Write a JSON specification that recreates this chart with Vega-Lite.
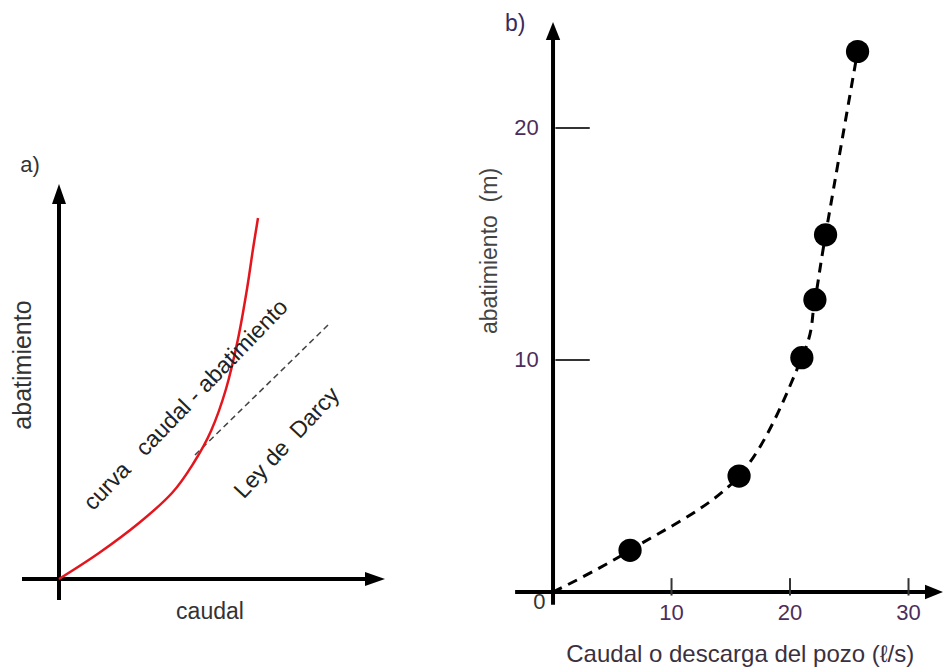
{
  "$schema": "https://vega.github.io/schema/vega-lite/v6.json",
  "width": 943,
  "height": 670,
  "autosize": "none",
  "padding": 0,
  "background": "white",
  "data": {"values": [{}]},
  "config": {"view": {"stroke": null}, "axis": {"disable": true}, "font": "Liberation Sans"},
  "datasets": {
    "a_curve": [
      {"caudal": 0, "abatimiento": 0},
      {"caudal": 4, "abatimiento": 2.6},
      {"caudal": 8, "abatimiento": 5.6},
      {"caudal": 11.3, "abatimiento": 8.6},
      {"caudal": 13.4, "abatimiento": 11.5},
      {"caudal": 15.2, "abatimiento": 14.8},
      {"caudal": 16.7, "abatimiento": 19.0},
      {"caudal": 17.9, "abatimiento": 24.0},
      {"caudal": 18.8, "abatimiento": 29.0},
      {"caudal": 19.4, "abatimiento": 33.0},
      {"caudal": 19.9, "abatimiento": 36.1}
    ],
    "a_darcy": [
      {"caudal": 13.6, "abatimiento": 12.4},
      {"caudal": 26.9, "abatimiento": 25.4}
    ],
    "b_curve": [
      {"caudal": 0, "abatimiento": 0},
      {"caudal": 6.5, "abatimiento": 1.8},
      {"caudal": 15.7, "abatimiento": 5.0},
      {"caudal": 21.0, "abatimiento": 10.1},
      {"caudal": 22.1, "abatimiento": 12.6},
      {"caudal": 23.0, "abatimiento": 15.4},
      {"caudal": 25.7, "abatimiento": 23.3}
    ],
    "b_points": [
      {"caudal": 6.5, "abatimiento": 1.8},
      {"caudal": 15.7, "abatimiento": 5.0},
      {"caudal": 21.0, "abatimiento": 10.1},
      {"caudal": 22.1, "abatimiento": 12.6},
      {"caudal": 23.0, "abatimiento": 15.4},
      {"caudal": 25.7, "abatimiento": 23.3}
    ],
    "b_yticks": [{"v": 10}, {"v": 20}],
    "b_xticks": [{"v": 10}, {"v": 20}, {"v": 30}]
  },
  "resolve": {"scale": {"x": "independent", "y": "independent"}},
  "layer": [
    {
      "layer": [
        {
          "mark": {"type": "rule", "strokeWidth": 4, "color": "#000"},
          "encoding": {
            "x": {"datum": -3.7, "type": "quantitative", "scale": {"domain": [-5.9, 88.4], "nice": false, "zero": false}, "axis": null},
            "x2": {"datum": 31.6},
            "y": {"datum": 0, "type": "quantitative", "scale": {"domain": [-9.1, 57.9], "nice": false, "zero": false}, "axis": null}
          }
        },
        {
          "mark": {"type": "rule", "strokeWidth": 4, "color": "#000"},
          "encoding": {
            "x": {"datum": 0, "type": "quantitative", "scale": {"domain": [-5.9, 88.4], "nice": false, "zero": false}, "axis": null},
            "y": {"datum": -2.1, "type": "quantitative", "scale": {"domain": [-9.1, 57.9], "nice": false, "zero": false}, "axis": null},
            "y2": {"datum": 38.5}
          }
        },
        {
          "mark": {"type": "point", "shape": "M-0.7,1L0,-1L0.7,1Z", "filled": true, "color": "#000", "opacity": 1, "size": 400},
          "encoding": {
            "x": {"datum": 0, "type": "quantitative", "scale": {"domain": [-5.9, 88.4], "nice": false, "zero": false}, "axis": null},
            "y": {"datum": 38.5, "type": "quantitative", "scale": {"domain": [-9.1, 57.9], "nice": false, "zero": false}, "axis": null}
          }
        },
        {
          "mark": {"type": "point", "shape": "M-1,-0.7L1,0L-1,0.7Z", "filled": true, "color": "#000", "opacity": 1, "size": 400},
          "encoding": {
            "x": {"datum": 31.6, "type": "quantitative", "scale": {"domain": [-5.9, 88.4], "nice": false, "zero": false}, "axis": null},
            "y": {"datum": 0, "type": "quantitative", "scale": {"domain": [-9.1, 57.9], "nice": false, "zero": false}, "axis": null}
          }
        },
        {
          "data": {"name": "a_darcy"},
          "mark": {"type": "line", "strokeDash": [6, 4], "strokeWidth": 1.5, "color": "#444"},
          "encoding": {
            "x": {"field": "caudal", "type": "quantitative", "scale": {"domain": [-5.9, 88.4], "nice": false, "zero": false}, "axis": null},
            "y": {"field": "abatimiento", "type": "quantitative", "scale": {"domain": [-9.1, 57.9], "nice": false, "zero": false}, "axis": null}
          }
        },
        {
          "data": {"name": "a_curve"},
          "mark": {"type": "line", "strokeWidth": 2.5, "color": "#e3161e", "interpolate": "cardinal"},
          "encoding": {
            "x": {"field": "caudal", "type": "quantitative", "scale": {"domain": [-5.9, 88.4], "nice": false, "zero": false}, "axis": null},
            "y": {"field": "abatimiento", "type": "quantitative", "scale": {"domain": [-9.1, 57.9], "nice": false, "zero": false}, "axis": null}
          }
        },
        {
          "mark": {"type": "text", "text": "a)", "fontSize": 22, "color": "#333", "align": "center", "baseline": "middle"},
          "encoding": {
            "x": {"datum": -2.9, "type": "quantitative", "scale": {"domain": [-5.9, 88.4], "nice": false, "zero": false}, "axis": null},
            "y": {"datum": 41.4, "type": "quantitative", "scale": {"domain": [-9.1, 57.9], "nice": false, "zero": false}, "axis": null}
          }
        },
        {
          "mark": {"type": "text", "text": "abatimiento", "fontSize": 25, "color": "#333", "align": "center", "baseline": "middle", "angle": 270},
          "encoding": {
            "x": {"datum": -3.6, "type": "quantitative", "scale": {"domain": [-5.9, 88.4], "nice": false, "zero": false}, "axis": null},
            "y": {"datum": 21.4, "type": "quantitative", "scale": {"domain": [-9.1, 57.9], "nice": false, "zero": false}, "axis": null}
          }
        },
        {
          "mark": {"type": "text", "text": "caudal", "fontSize": 23, "color": "#333", "align": "center", "baseline": "middle"},
          "encoding": {
            "x": {"datum": 15.1, "type": "quantitative", "scale": {"domain": [-5.9, 88.4], "nice": false, "zero": false}, "axis": null},
            "y": {"datum": -3.3, "type": "quantitative", "scale": {"domain": [-9.1, 57.9], "nice": false, "zero": false}, "axis": null}
          }
        },
        {
          "mark": {"type": "text", "text": "curva\u00a0\u00a0 caudal - abatimiento", "fontSize": 23, "color": "#222", "align": "center", "baseline": "middle", "angle": 314},
          "encoding": {
            "x": {"datum": 12.7, "type": "quantitative", "scale": {"domain": [-5.9, 88.4], "nice": false, "zero": false}, "axis": null},
            "y": {"datum": 17.4, "type": "quantitative", "scale": {"domain": [-9.1, 57.9], "nice": false, "zero": false}, "axis": null}
          }
        },
        {
          "mark": {"type": "text", "text": "Ley de\u00a0 Darcy", "fontSize": 23, "color": "#222", "align": "center", "baseline": "middle", "angle": 313},
          "encoding": {
            "x": {"datum": 22.8, "type": "quantitative", "scale": {"domain": [-5.9, 88.4], "nice": false, "zero": false}, "axis": null},
            "y": {"datum": 13.6, "type": "quantitative", "scale": {"domain": [-9.1, 57.9], "nice": false, "zero": false}, "axis": null}
          }
        }
      ]
    },
    {
      "layer": [
        {
          "mark": {"type": "rule", "strokeWidth": 4, "color": "#000"},
          "encoding": {
            "x": {"datum": -3.2, "type": "quantitative", "scale": {"domain": [-46.67, 32.91], "nice": false, "zero": false}, "axis": null},
            "x2": {"datum": 32.15},
            "y": {"datum": 0, "type": "quantitative", "scale": {"domain": [-3.36, 25.52], "nice": false, "zero": false}, "axis": null}
          }
        },
        {
          "mark": {"type": "rule", "strokeWidth": 4, "color": "#000"},
          "encoding": {
            "x": {"datum": 0, "type": "quantitative", "scale": {"domain": [-46.67, 32.91], "nice": false, "zero": false}, "axis": null},
            "y": {"datum": -0.55, "type": "quantitative", "scale": {"domain": [-3.36, 25.52], "nice": false, "zero": false}, "axis": null},
            "y2": {"datum": 24.18}
          }
        },
        {
          "mark": {"type": "point", "shape": "M-0.8,1L0,-1L0.8,1Z", "filled": true, "color": "#000", "opacity": 1, "size": 324},
          "encoding": {
            "x": {"datum": 0, "type": "quantitative", "scale": {"domain": [-46.67, 32.91], "nice": false, "zero": false}, "axis": null},
            "y": {"datum": 24.18, "type": "quantitative", "scale": {"domain": [-3.36, 25.52], "nice": false, "zero": false}, "axis": null}
          }
        },
        {
          "mark": {"type": "point", "shape": "M-1,-0.8L1,0L-1,0.8Z", "filled": true, "color": "#000", "opacity": 1, "size": 324},
          "encoding": {
            "x": {"datum": 32.15, "type": "quantitative", "scale": {"domain": [-46.67, 32.91], "nice": false, "zero": false}, "axis": null},
            "y": {"datum": 0, "type": "quantitative", "scale": {"domain": [-3.36, 25.52], "nice": false, "zero": false}, "axis": null}
          }
        },
        {
          "data": {"name": "b_yticks"},
          "mark": {"type": "rule", "strokeWidth": 2, "color": "#333"},
          "encoding": {
            "x": {"datum": 0.2, "type": "quantitative", "scale": {"domain": [-46.67, 32.91], "nice": false, "zero": false}, "axis": null},
            "x2": {"datum": 3.1},
            "y": {"field": "v", "type": "quantitative", "scale": {"domain": [-3.36, 25.52], "nice": false, "zero": false}, "axis": null}
          }
        },
        {
          "data": {"name": "b_xticks"},
          "mark": {"type": "rule", "strokeWidth": 2, "color": "#333"},
          "encoding": {
            "x": {"field": "v", "type": "quantitative", "scale": {"domain": [-46.67, 32.91], "nice": false, "zero": false}, "axis": null},
            "y": {"datum": -0.15, "type": "quantitative", "scale": {"domain": [-3.36, 25.52], "nice": false, "zero": false}, "axis": null},
            "y2": {"datum": 0.6}
          }
        },
        {
          "data": {"name": "b_yticks"},
          "mark": {"type": "text", "fontSize": 22, "color": "#4b2d5c", "align": "right", "baseline": "middle"},
          "encoding": {
            "text": {"field": "v", "type": "quantitative"},
            "x": {"datum": -1.2, "type": "quantitative", "scale": {"domain": [-46.67, 32.91], "nice": false, "zero": false}, "axis": null},
            "y": {"field": "v", "type": "quantitative", "scale": {"domain": [-3.36, 25.52], "nice": false, "zero": false}, "axis": null}
          }
        },
        {
          "data": {"name": "b_xticks"},
          "mark": {"type": "text", "fontSize": 22, "color": "#4b2d5c", "align": "center", "baseline": "middle"},
          "encoding": {
            "text": {"field": "v", "type": "quantitative"},
            "x": {"field": "v", "type": "quantitative", "scale": {"domain": [-46.67, 32.91], "nice": false, "zero": false}, "axis": null},
            "y": {"datum": -0.9, "type": "quantitative", "scale": {"domain": [-3.36, 25.52], "nice": false, "zero": false}, "axis": null}
          }
        },
        {
          "mark": {"type": "text", "text": "0", "fontSize": 22, "color": "#333", "align": "center", "baseline": "middle"},
          "encoding": {
            "x": {"datum": -1.15, "type": "quantitative", "scale": {"domain": [-46.67, 32.91], "nice": false, "zero": false}, "axis": null},
            "y": {"datum": -0.45, "type": "quantitative", "scale": {"domain": [-3.36, 25.52], "nice": false, "zero": false}, "axis": null}
          }
        },
        {
          "data": {"name": "b_curve"},
          "mark": {"type": "line", "strokeDash": [10, 7], "strokeWidth": 3, "color": "#000", "interpolate": "cardinal"},
          "encoding": {
            "x": {"field": "caudal", "type": "quantitative", "scale": {"domain": [-46.67, 32.91], "nice": false, "zero": false}, "axis": null},
            "y": {"field": "abatimiento", "type": "quantitative", "scale": {"domain": [-3.36, 25.52], "nice": false, "zero": false}, "axis": null}
          }
        },
        {
          "data": {"name": "b_points"},
          "mark": {"type": "circle", "size": 540, "color": "#000", "opacity": 1},
          "encoding": {
            "x": {"field": "caudal", "type": "quantitative", "scale": {"domain": [-46.67, 32.91], "nice": false, "zero": false}, "axis": null},
            "y": {"field": "abatimiento", "type": "quantitative", "scale": {"domain": [-3.36, 25.52], "nice": false, "zero": false}, "axis": null}
          }
        },
        {
          "mark": {"type": "text", "text": "b)", "fontSize": 23, "color": "#3a2a5a", "align": "center", "baseline": "middle"},
          "encoding": {
            "x": {"datum": -3.2, "type": "quantitative", "scale": {"domain": [-46.67, 32.91], "nice": false, "zero": false}, "axis": null},
            "y": {"datum": 24.5, "type": "quantitative", "scale": {"domain": [-3.36, 25.52], "nice": false, "zero": false}, "axis": null}
          }
        },
        {
          "mark": {"type": "text", "text": "abatimiento\u00a0 (m)", "fontSize": 23, "color": "#444", "align": "center", "baseline": "middle", "angle": 270},
          "encoding": {
            "x": {"datum": -5.3, "type": "quantitative", "scale": {"domain": [-46.67, 32.91], "nice": false, "zero": false}, "axis": null},
            "y": {"datum": 14.7, "type": "quantitative", "scale": {"domain": [-3.36, 25.52], "nice": false, "zero": false}, "axis": null}
          }
        },
        {
          "mark": {"type": "text", "text": "Caudal o descarga del pozo (ℓ/s)", "fontSize": 24, "color": "#3b3040", "align": "center", "baseline": "middle"},
          "encoding": {
            "x": {"datum": 15.8, "type": "quantitative", "scale": {"domain": [-46.67, 32.91], "nice": false, "zero": false}, "axis": null},
            "y": {"datum": -2.7, "type": "quantitative", "scale": {"domain": [-3.36, 25.52], "nice": false, "zero": false}, "axis": null}
          }
        }
      ]
    }
  ]
}
